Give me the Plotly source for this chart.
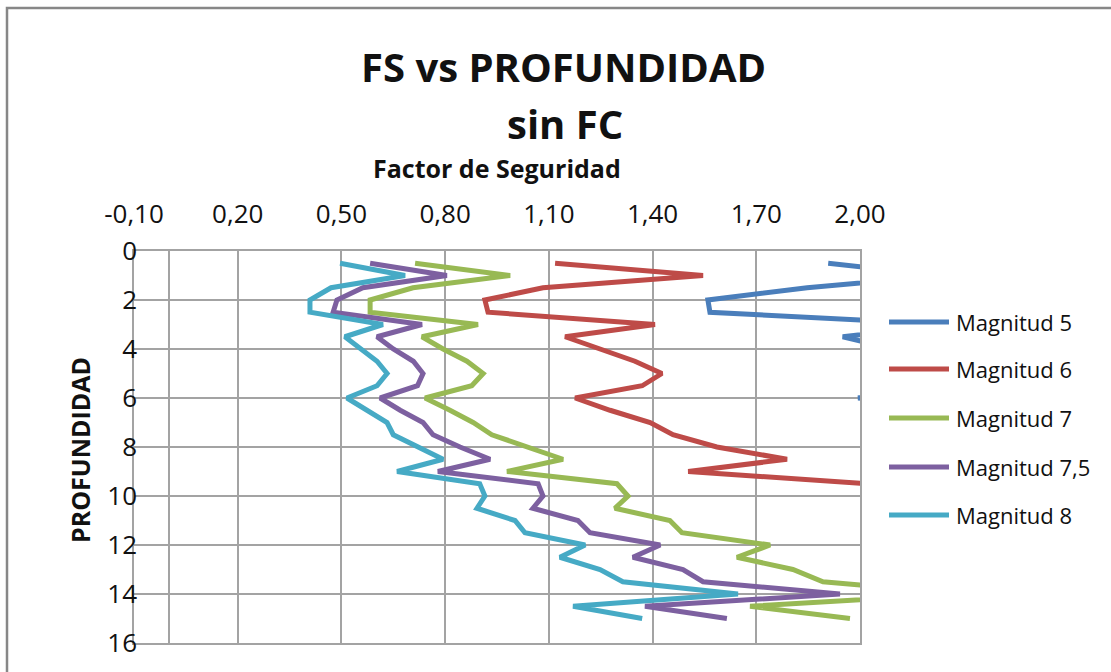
import plotly.graph_objects as go

# Depth (m) of each evaluated layer
profundidad = [0.5, 1.0, 1.5, 2.0, 2.5, 3.0, 3.5, 4.0, 4.5, 5.0,
               5.5, 6.0, 6.5, 7.0, 7.5, 8.0, 8.5, 9.0, 9.5, 10.0,
               10.5, 11.0, 11.5, 12.0, 12.5, 13.0, 13.5, 14.0, 14.5, 15.0]

# Factor of safety per earthquake magnitude (no correction factor)
fs_mag5 = [1.908, 2.24, 1.847, 1.56, 1.566, 2.255, 1.95, 2.10, 2.20, 2.30,
           2.12, 1.995, 2.20, 2.35, 2.42, 2.55, 2.71, 2.49, 2.93, 2.98,
           2.94, 3.12, 3.18, 3.46, 3.35, 3.55, 3.66, 4.10, 3.42, 3.75]
fs_mag6 = [1.118, 1.546, 1.083, 0.915, 0.924, 1.407, 1.147, 1.248, 1.349, 1.427,
           1.37, 1.176, 1.277, 1.393, 1.459, 1.586, 1.789, 1.503, 2.02, 2.14,
           2.11, 2.27, 2.31, 2.58, 2.47, 2.65, 2.74, 3.20, 2.55, 2.86]
fs_mag7 = [0.713, 0.988, 0.707, 0.583, 0.583, 0.895, 0.733, 0.794, 0.863, 0.91,
           0.877, 0.742, 0.814, 0.881, 0.935, 1.04, 1.141, 0.979, 1.297, 1.329,
           1.291, 1.45, 1.485, 1.74, 1.644, 1.806, 1.893, 2.29, 1.682, 1.971]
fs_mag75 = [0.583, 0.805, 0.562, 0.487, 0.476, 0.733, 0.603, 0.65, 0.708, 0.736,
            0.72, 0.612, 0.67, 0.736, 0.765, 0.843, 0.93, 0.779, 1.069, 1.083,
            1.054, 1.184, 1.219, 1.422, 1.343, 1.488, 1.546, 1.942, 1.378, 1.615]
fs_mag8 = [0.496, 0.684, 0.47, 0.409, 0.409, 0.62, 0.51, 0.554, 0.603, 0.632,
           0.603, 0.516, 0.574, 0.632, 0.65, 0.719, 0.794, 0.661, 0.90, 0.915,
           0.892, 1.002, 1.031, 1.205, 1.132, 1.248, 1.314, 1.647, 1.17, 1.37]

series_names = ["Magnitud 5", "Magnitud 6", "Magnitud 7", "Magnitud 7,5", "Magnitud 8"]
series_values = [fs_mag5, fs_mag6, fs_mag7, fs_mag75, fs_mag8]
series_colors = ["#4A7EBB", "#BE4B48", "#98B954", "#7D60A0", "#46AAC5"]

x_ticks = [-0.10, 0.20, 0.50, 0.80, 1.10, 1.40, 1.70, 2.00]
x_tick_labels = ["-0,10", "0,20", "0,50", "0,80", "1,10", "1,40", "1,70", "2,00"]
y_ticks = [0, 2, 4, 6, 8, 10, 12, 14, 16]

W, H = 1111, 672
PL, PR, PT, PB = 134, 860, 251, 643  # plot area in pixels


def px_x(px):
    return (px - PL) / (PR - PL)


def px_y(py):
    return (PB - py) / (PB - PT)


FONT = "Open Sans"
GRID = "#a3a3a3"
TXT = "#111111"

fig = go.Figure()
for name, vals, col in zip(series_names, series_values, series_colors):
    fig.add_trace(go.Scatter(
        x=vals, y=profundidad, mode="lines", name=name,
        line=dict(color=col, width=5), showlegend=False,
    ))

annotations = [
    dict(text="<b>FS vs PROFUNDIDAD</b>", x=px_x(563), y=px_y(66),
         font=dict(size=40, family=FONT, color=TXT)),
    dict(text="<b>sin FC</b>", x=px_x(565), y=px_y(123),
         font=dict(size=40, family=FONT, color=TXT)),
    dict(text="<b>Factor de Seguridad</b>", x=px_x(497), y=px_y(168),
         font=dict(size=25, family=FONT, color=TXT)),
    dict(text="<b>PROFUNDIDAD</b>", x=px_x(80), y=px_y(450), textangle=-90,
         font=dict(size=25, family=FONT, color=TXT)),
]
for a in annotations:
    a.update(xref="paper", yref="paper", showarrow=False,
             xanchor="center", yanchor="middle")

shapes = [
    # chart frame
    dict(type="rect", xref="paper", yref="paper",
         x0=px_x(7), x1=px_x(1130), y0=px_y(8), y1=px_y(690),
         line=dict(color="#878787", width=2.5), layer="below"),
]

# legend swatches and labels
legend_y = [322, 369, 418, 467, 515]
for name, col, ly in zip(series_names, series_colors, legend_y):
    shapes.append(dict(type="line", xref="paper", yref="paper",
                       x0=px_x(889), x1=px_x(949), y0=px_y(ly), y1=px_y(ly),
                       line=dict(color=col, width=5)))
    annotations.append(dict(text=name, xref="paper", yref="paper",
                            x=px_x(954), y=px_y(ly), xanchor="left",
                            yanchor="middle", showarrow=False,
                            font=dict(size=22, family=FONT, color=TXT)))

fig.update_layout(
    width=W, height=H, autosize=False,
    margin=dict(l=PL, r=W - PR, t=PT, b=H - PB, pad=0),
    paper_bgcolor="white", plot_bgcolor="white",
    separators=", ",
    font=dict(family=FONT, color=TXT),
    annotations=annotations, shapes=shapes,
    xaxis=dict(
        side="top", range=[-0.1, 2.0], tickvals=x_ticks, ticktext=x_tick_labels,
        showgrid=True, gridcolor=GRID, gridwidth=1.5,
        zeroline=True, zerolinecolor=GRID, zerolinewidth=1.5,
        showline=True, mirror=True, linecolor=GRID, linewidth=1.5,
        ticks="", tickfont=dict(size=26, family=FONT, color=TXT),
        ticklabelstandoff=16,
    ),
    yaxis=dict(
        range=[16, 0], tickvals=y_ticks,
        showgrid=True, gridcolor=GRID, gridwidth=1.5,
        zeroline=False,
        showline=True, mirror=True, linecolor=GRID, linewidth=1.5,
        ticks="", tickfont=dict(size=26, family=FONT, color=TXT),
        ticklabelstandoff=-10,
    ),
)

fig.write_html("out.html")
